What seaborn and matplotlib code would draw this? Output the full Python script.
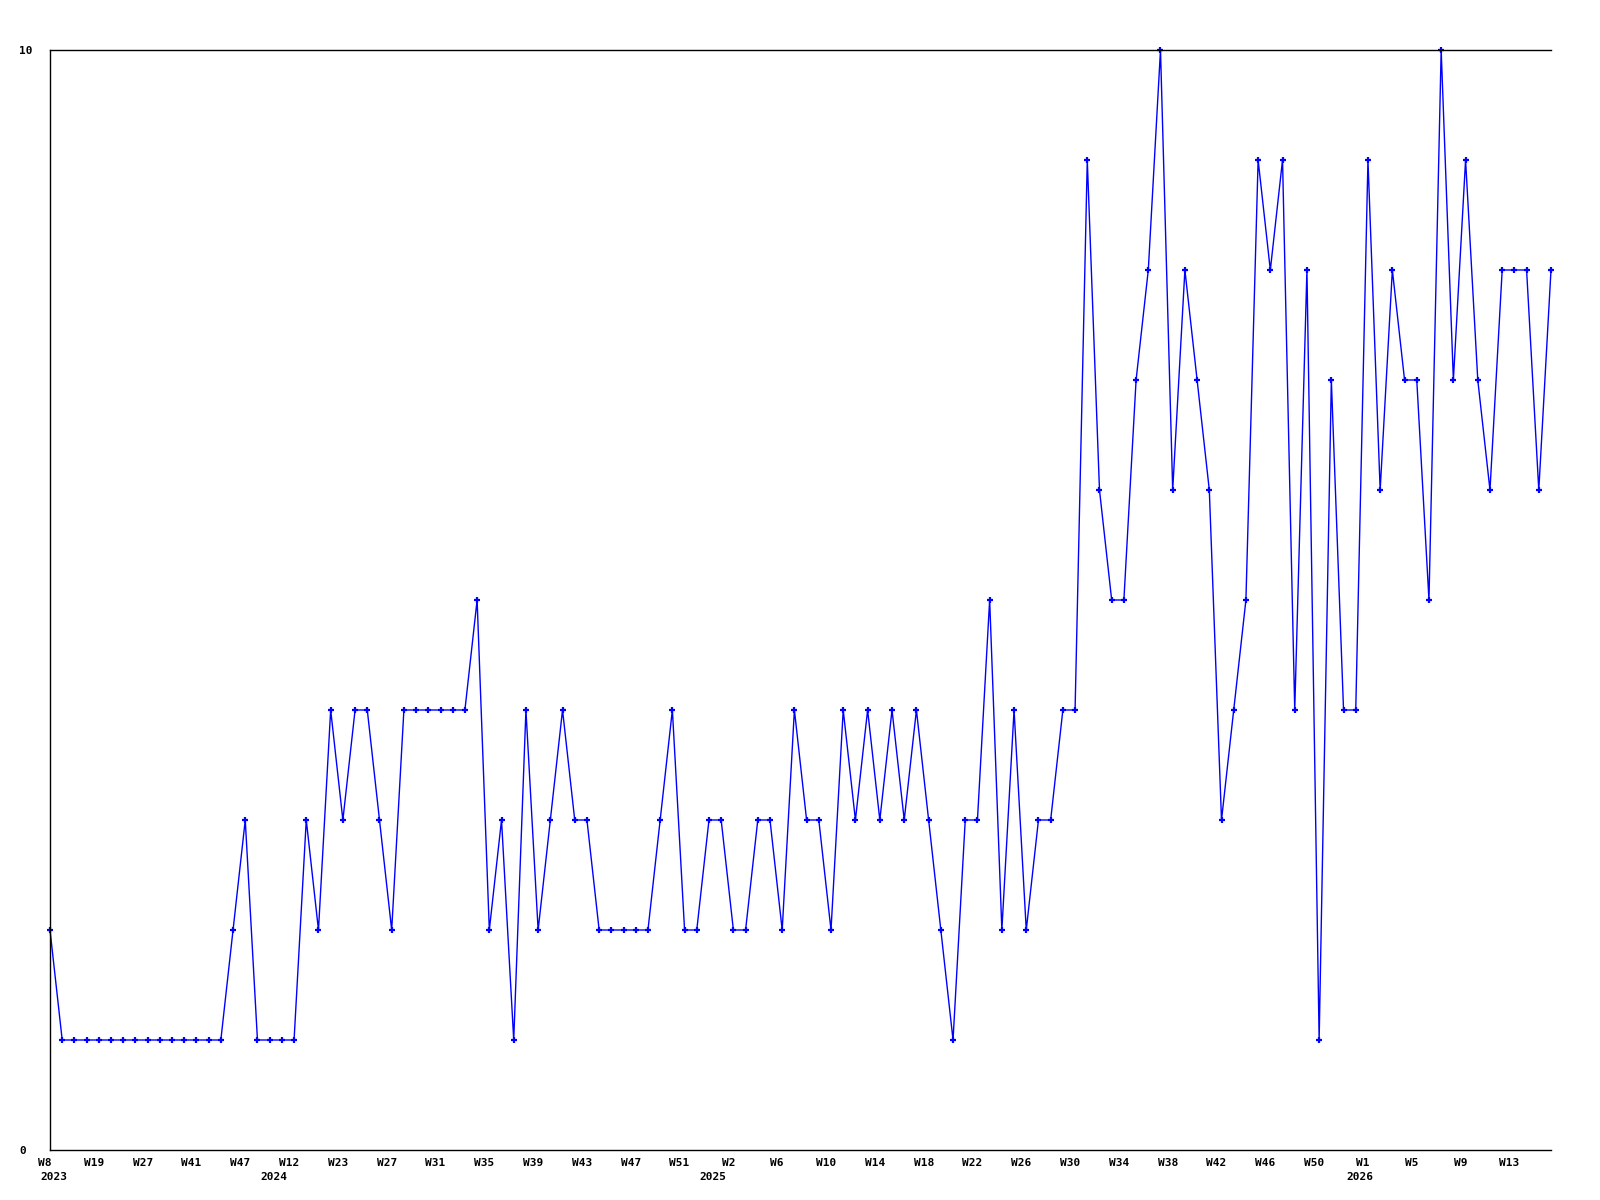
import matplotlib
matplotlib.use("Agg")
import matplotlib.pyplot as plt
import matplotlib.transforms as mtransforms
import numpy as np
import pandas as pd
import seaborn as sns

# weekly counts, one value per plotted week
values = [
    2, 1, 1, 1, 1, 1, 1, 1, 1, 1, 1, 1, 1, 1, 1, 2, 3, 1, 1, 1,
    1, 3, 2, 4, 3, 4, 4, 3, 2, 4, 4, 4, 4, 4, 4, 5, 2, 3, 1, 4,
    2, 3, 4, 3, 3, 2, 2, 2, 2, 2, 3, 4, 2, 2, 3, 3, 2, 2, 3, 3,
    2, 4, 3, 3, 2, 4, 3, 4, 3, 4, 3, 4, 3, 2, 1, 3, 3, 5, 2, 4,
    2, 3, 3, 4, 4, 9, 6, 5, 5, 7, 8, 10, 6, 8, 7, 6, 3, 4, 5, 9,
    8, 9, 4, 8, 1, 7, 4, 4, 9, 6, 8, 7, 7, 5, 10, 7, 9, 7, 6, 8,
    8, 8, 6, 8,
]

# labels shown on every 4th week
week_labels = [
    "W8", "W19", "W27", "W41", "W47", "W12", "W23", "W27", "W31", "W35",
    "W39", "W43", "W47", "W51", "W2", "W6", "W10", "W14", "W18", "W22",
    "W26", "W30", "W34", "W38", "W42", "W46", "W50", "W1", "W5", "W9", "W13",
]
label_step = 4

# year captions and the index of the first week of each year
year_labels = ["2023", "2024", "2025", "2026"]
year_first = [0, 18, 54, 107]

df = pd.DataFrame({"week": np.arange(len(values)), "count": values})

sns.set_style("white")
plt.rcParams["font.family"] = ["DejaVu Sans Mono", "DejaVu Sans"]

fig = plt.figure(figsize=(16, 12), dpi=100)
ax = fig.add_axes([50 / 1600, 50 / 1200, 1501 / 1600, 1100 / 1200])

sns.lineplot(
    data=df, x="week", y="count", ax=ax,
    color="#0000ff", linewidth=1.0,
    marker="+", markersize=5, markeredgewidth=1.6,
    markeredgecolor="#0000ff", clip_on=False,
)

ax.set_xlim(0, len(values) - 1)
ax.set_ylim(0, 10)
ax.set_xlabel("")
ax.set_ylabel("")

for side in ["left", "bottom", "top"]:
    ax.spines[side].set_visible(True)
    ax.spines[side].set_color("black")
    ax.spines[side].set_linewidth(1.0)
ax.spines["right"].set_visible(False)

font = dict(fontsize=8, fontweight="bold", color="black")

ax.set_yticks([0, 10])
ax.set_yticklabels(["0", "10"], **font)
ax.tick_params(axis="y", length=0, pad=22)
for lab in ax.get_yticklabels():
    lab.set_horizontalalignment("left")

ticks = np.arange(0, len(values), label_step)[: len(week_labels)]
ax.set_xticks(ticks)
ax.set_xticklabels(week_labels, **font)
ax.tick_params(axis="x", length=0, pad=6)
shift = mtransforms.ScaledTranslation(-5 / 100, 0, fig.dpi_scale_trans)
for lab in ax.get_xticklabels():
    lab.set_transform(lab.get_transform() + shift)

year_trans = mtransforms.blended_transform_factory(ax.transData, ax.transAxes)
year_shift = mtransforms.ScaledTranslation(-2 / 100, -27 / 100, fig.dpi_scale_trans)
for name, pos in zip(year_labels, year_first):
    ax.text(pos + 0.5, 0, name, transform=year_trans + year_shift,
            ha="center", va="center", **font)

fig.savefig("out.png", dpi=100, facecolor="white")
